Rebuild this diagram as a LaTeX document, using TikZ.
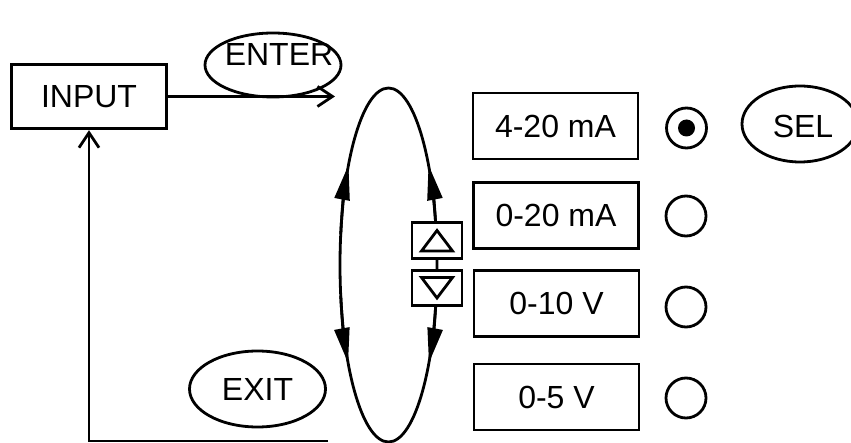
\documentclass[tikz,border=0pt]{standalone}
\usepackage{fontspec}
\setmainfont{Liberation Sans}
\usetikzlibrary{shapes.geometric,arrows.meta,calc}
\begin{document}
\begin{tikzpicture}[x=1pt,y=1pt,line width=2.8pt,
  txt/.style={font=\fontsize{32}{38}\selectfont, inner sep=0pt},
  box/.style={draw, rectangle, minimum width=165pt, minimum height=66pt, inner sep=0pt, font=\fontsize{32}{38}\selectfont},
  oval/.style={draw, ellipse, inner sep=0pt, font=\fontsize{32}{38}\selectfont},
  radio/.style={draw, circle, minimum size=40pt, inner sep=0pt},
  barb/.style={-{Straight Barb[length=15pt,width=20pt]}},
  tri/.style={-{Triangle[length=35pt,width=15pt]}},
  keybox/.style={draw, fill=white, minimum width=50pt, minimum height=35.5pt, inner sep=0pt}]
\useasboundingbox (0,0) rectangle (851,-443);

% INPUT and its connectors
\node[box, minimum width=155.5pt, minimum height=64.5pt] (input) at (89,-96.5) {INPUT};
\coordinate (entr) at (335,-96.5);
\draw[barb] (input.east) -- (entr);
\coordinate (ret) at (328,-441);
\draw[barb] (ret) -| (input.south);

% ENTER and EXIT
\node[oval, minimum width=136pt, minimum height=64pt] (enter) at (273,-65) {};
\node[txt] (entertext) at (279,-54) {ENTER};
\node[oval, minimum width=136pt, minimum height=76pt] (exit) at (257.5,-389) {EXIT};

% selection loop
\coordinate (lc) at (388.5,-265);
\draw (lc) ellipse [x radius=48.5pt, y radius=177pt];
\draw[tri] ($(lc)+(10:48.5pt and 177pt)$) arc[start angle=10, end angle=34.4, x radius=48.5pt, y radius=177pt];
\draw[tri] ($(lc)+(170:48.5pt and 177pt)$) arc[start angle=170, end angle=145.6, x radius=48.5pt, y radius=177pt];
\draw[tri] ($(lc)+(190:48.5pt and 177pt)$) arc[start angle=190, end angle=213.6, x radius=48.5pt, y radius=177pt];
\draw[tri] ($(lc)+(350:48.5pt and 177pt)$) arc[start angle=350, end angle=326.4, x radius=48.5pt, y radius=177pt];

% up / down keys
\node[keybox] (up) at (437,-240.5) {};
\node[keybox] (down) at (437,-288) {};
\draw ($(up.center)+(-15.5,-10.5)$) -- ($(up.center)+(15.5,-10.5)$) -- ($(up.center)+(0,10)$) -- cycle;
\draw ($(down.center)+(-15.5,10.5)$) -- ($(down.center)+(15.5,10.5)$) -- ($(down.center)+(0,-10)$) -- cycle;

% options
\node[box] (b1) at (555.5,-126) {4-20 mA};
\node[box] (b2) at (556,-215.5) {0-20 mA};
\node[box] (b3) at (556.5,-303.5) {0-10 V};
\node[box] (b4) at (556.5,-397) {0-5 V};

\node[radio] (r1) at (686.5,-128) {};
\node[radio] (r2) at (686,-216) {};
\node[radio] (r3) at (686,-307) {};
\node[radio] (r4) at (686,-398) {};
\node[circle, fill, inner sep=0pt, minimum size=17pt] (dot) at (r1.center) {};

\node[oval, minimum width=116pt, minimum height=76pt] (sel) at (800,-124) {};
\node[txt] (seltext) at (803,-126) {SEL};
\end{tikzpicture}
\end{document}
